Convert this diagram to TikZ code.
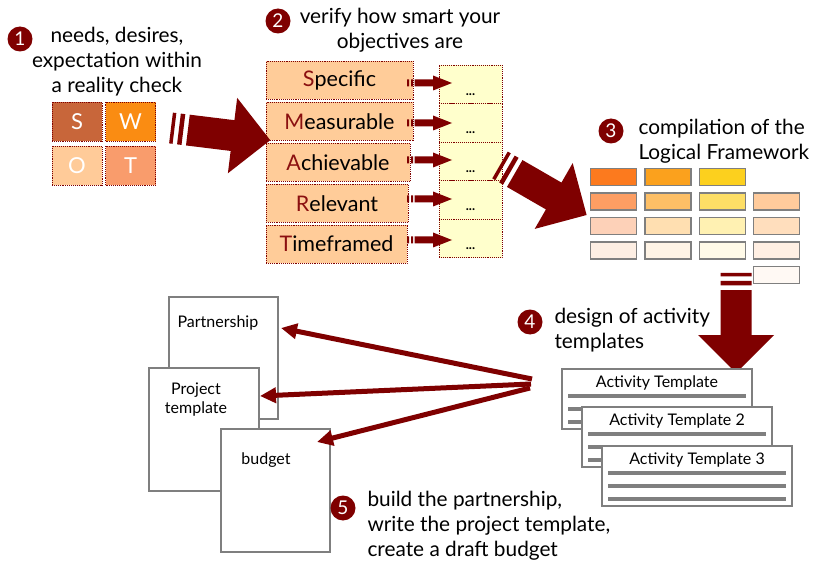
\documentclass[tikz,border=0pt]{standalone}
\usepackage{fontspec}
\setmainfont{Lato}
\usetikzlibrary{arrows.meta}
\definecolor{dred}{HTML}{7F0000}
\definecolor{lred}{HTML}{8B1010}
\definecolor{peach}{HTML}{FFCC99}
\definecolor{lyel}{HTML}{FFFFCC}
\definecolor{gbord}{HTML}{7F7F7F}
\definecolor{sS}{HTML}{C8663A}
\definecolor{sW}{HTML}{FA8C12}
\definecolor{sO}{HTML}{FFCB99}
\definecolor{sT}{HTML}{F99C6C}
\newcommand\bigstriped[3]{%
  \begin{scope}[shift={(#1,#2)},rotate=#3]
    \fill[dred] (0,-15.5) rectangle (3.5,15.5) (8,-15.5) rectangle (12.5,15.5)
      (17,-15.5) -- (62,-15.5) -- (62,-38) -- (100,0) -- (62,38) -- (62,15.5) -- (17,15.5) -- cycle;
  \end{scope}}
\newcommand\smallstriped[2]{%
  \begin{scope}[shift={(#1,#2)}]
    \fill[dred] (0,-3.5) rectangle (2,3.5) (4,-3.5) rectangle (6,3.5)
      (7.5,-3.5) -- (26,-3.5) -- (26,-7.5) -- (45,0) -- (26,7.5) -- (26,3.5) -- (7.5,3.5) -- cycle;
  \end{scope}}
\newcommand\actcard[4]{%
  \node[card] (#1) at (#2+95,#3+30) {};
  \node[font=\fontsize{16}{17}\selectfont] (#1t) at (#2+95,#3+14) {#4};
  \draw[cardline] (#2+6,#3+27) -- (#2+184,#3+27);
  \draw[cardline] (#2+6,#3+40) -- (#2+184,#3+40);
  \draw[cardline] (#2+6,#3+53) -- (#2+184,#3+53);}
\tikzset{
  numc/.style={circle, fill=dred, text=white, minimum size=25, inner sep=0pt, font=\fontsize{19}{19}\selectfont},
  swot/.style={draw=dred, densely dotted, line width=0.9pt, minimum width=50, minimum height=39, inner sep=0pt, text=white, font=\fontsize{22}{22}\selectfont},
  smart/.style={draw=dred, densely dotted, line width=0.9pt, fill=peach, minimum height=38, inner sep=0pt, font=\fontsize{21.5}{21.5}\selectfont},
  dots/.style={draw=dred, densely dotted, line width=0.9pt, fill=lyel, minimum width=63, minimum height=38.5, inner sep=0pt},
  grid/.style={draw=gbord, line width=1.3pt, minimum width=46, minimum height=17, inner sep=0pt},
  card/.style={draw=gbord, line width=1.3pt, fill=white, minimum width=190, minimum height=60, inner sep=0pt},
  cardline/.style={draw=gbord, line width=3.2pt},
  doc/.style={draw=gbord, line width=1.3pt, fill=white, minimum width=109, minimum height=122, inner sep=0pt},
  doctext/.style={font=\fontsize{16}{19}\selectfont, align=center},
  steptext/.style={font=\fontsize{20.8}{25}\selectfont},
  docarrow/.style={draw=dred, line width=5pt, -{Triangle[length=16pt,width=15pt]}}
}
\begin{document}
\begin{tikzpicture}[x=1pt,y=-1pt]
\useasboundingbox[fill=white] (0,0) rectangle (815,567);

% step 1
\node[numc] (n1) at (20,39) {1};
\node[steptext, align=center] (t1) at (117,62) {needs, desires,\\expectation within\\a reality check};
\node[swot, fill=sS] (S) at (77,121.5) {S};
\node[swot, fill=sW] (W) at (130.5,121.5) {W};
\node[swot, fill=sO] (O) at (77,166) {O};
\node[swot, fill=sT] (T) at (130.5,166) {T};

% step 2
\node[numc] (n2) at (278,21) {2};
\node[steptext, align=center] (t2) at (400,30) {verify how smart your\\objectives are};
\node[smart, minimum width=147] (sp) at (339.5,80.5) {\textcolor{lred}{S}pecific};
\node[smart, minimum width=147] (me) at (339.5,121.5) {\textcolor{lred}{M}easurable};
\node[smart, minimum width=144] (ac) at (338,162.5) {\textcolor{lred}{A}chievable};
\node[smart, minimum width=142] (re) at (337,203.5) {\textcolor{lred}{R}elevant};
\node[smart, minimum width=141] (ti) at (336.5,244) {\textcolor{lred}{T}imeframed};
\foreach \i/\y in {1/84.5,2/123,3/161.5,4/200,5/238.5}{
  \node[dots] (d\i) at (470.5,\y) {};
  \node[font=\bfseries\fontsize{13}{13}\selectfont, anchor=base] (dt\i) at (470.5,\y+11) {...};
}
\foreach \y in {83,123,160,199,240}{\smallstriped{407}{\y}}

% big arrow 1
\bigstriped{171}{128}{-7}

% step 3
\node[numc] (n3) at (611,131) {3};
\node[steptext, align=left, anchor=west] (t3) at (635,141) {compilation of the\\Logical Framework};
\node[grid, fill={rgb,255:red,252;green,122;blue,30}] (g11) at (613.5,177) {};
\node[grid, fill={rgb,255:red,251;green,161;blue,29}] (g12) at (668,177) {};
\node[grid, fill={rgb,255:red,252;green,208;blue,30}] (g13) at (722.5,177) {};
\node[grid, fill={rgb,255:red,253;green,158;blue,99}] (g21) at (613.5,201.5) {};
\node[grid, fill={rgb,255:red,253;green,191;blue,102}] (g22) at (668,201.5) {};
\node[grid, fill={rgb,255:red,253;green,222;blue,102}] (g23) at (722.5,201.5) {};
\node[grid, fill={rgb,255:red,255;green,203;blue,156}] (g24) at (776.5,201.5) {};
\node[grid, fill={rgb,255:red,253;green,209;blue,184}] (g31) at (613.5,226) {};
\node[grid, fill={rgb,255:red,255;green,223;blue,177}] (g32) at (668,226) {};
\node[grid, fill={rgb,255:red,255;green,241;blue,178}] (g33) at (722.5,226) {};
\node[grid, fill={rgb,255:red,255;green,222;blue,189}] (g34) at (776.5,226) {};
\node[grid, fill={rgb,255:red,253;green,238;blue,227}] (g41) at (613.5,250.5) {};
\node[grid, fill={rgb,255:red,255;green,244;blue,230}] (g42) at (668,250.5) {};
\node[grid, fill={rgb,255:red,255;green,250;blue,232}] (g43) at (722.5,250.5) {};
\node[grid, fill={rgb,255:red,255;green,239;blue,227}] (g44) at (776.5,250.5) {};
\node[grid, fill={rgb,255:red,255;green,249;blue,244}] (g54) at (776.5,275) {};

% big arrow 2
\bigstriped{500}{165}{-30}

% big arrow 3
\bigstriped{736}{273}{-90}

% step 4
\node[numc] (n4) at (530,322) {4};
\node[steptext, align=left, anchor=west] (t4) at (551,330) {design of activity\\templates};
\actcard{c1}{562}{369}{Activity Template}
\actcard{c2}{582}{407}{Activity Template 2}
\actcard{c3}{602}{446}{Activity Template 3}

% documents
\node[doc] (dp) at (223.5,358) {};
\node[doctext, anchor=west] (dpt) at (174,323) {Partnership};
\node[doc, minimum width=110, minimum height=123] (dt) at (204,429.5) {};
\node[doctext] (dtt) at (196,399.5) {Project\\template};
\node[doc, minimum height=123] (db) at (275.5,490.5) {};
\node[doctext] (dbt) at (266,460) {budget};

% arrows from activity templates
\coordinate (s1) at (532,379);
\coordinate (s2) at (531,384);
\coordinate (s3) at (530,388);
\coordinate (e1) at (281,328);
\coordinate (e2) at (260,396);
\coordinate (e3) at (317,442);
\draw[docarrow] (s1) -- (e1);
\draw[docarrow] (s2) -- (e2);
\draw[docarrow] (s3) -- (e3);

% step 5
\node[numc] (n5) at (343,508) {5};
\node[steptext, align=left, anchor=west] (t5) at (364,526) {build the partnership,\\write the project template,\\create a draft budget};
\end{tikzpicture}
\end{document}
